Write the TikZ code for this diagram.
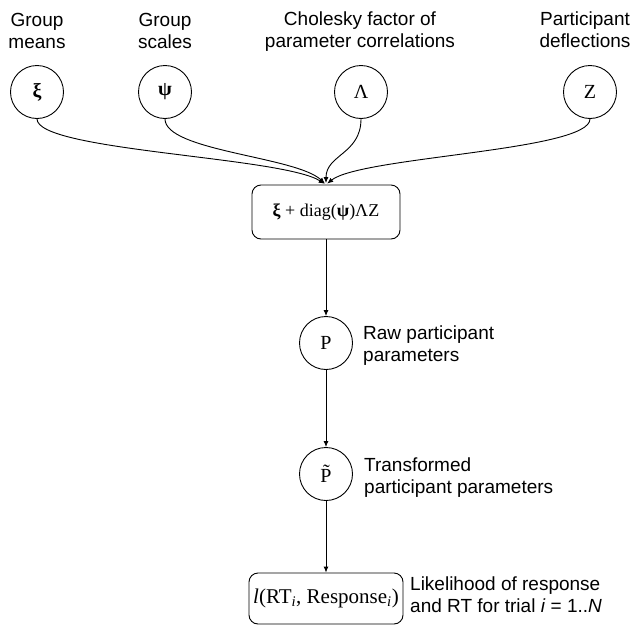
\documentclass[tikz,border=0pt]{standalone}
\usepackage{fontspec}
\setmainfont{Liberation Serif}
\newfontfamily\lsans{Liberation Sans}
\usetikzlibrary{arrows.meta}
\begin{document}
\begin{tikzpicture}[x=1pt,y=-1pt,
  lab/.style={font=\lsans\fontsize{19}{22}\selectfont, inner sep=0pt},
  var/.style={circle, draw, line width=0.9pt, minimum size=53pt, inner sep=0pt, font=\fontsize{20}{24}\selectfont},
  fbox/.style={draw, line width=0.9pt, rounded corners=9pt, inner sep=0pt, font=\fontsize{20}{24}\selectfont},
  arr/.style={line width=0.9pt, -{Latex[length=6pt,width=5pt]}}
]
\useasboundingbox (0,0) rectangle (638,627);
% top variables
\node[var] (xi)  at (37,92)  {\textbf{ξ}};
\node[var] (psi) at (165,92) {\textbf{ψ}};
\node[var] (lam) at (361,92) {Λ};
\node[var] (z)   at (590,92) {Z};
% top labels
\node[lab, anchor=north, align=center] (lxi)  at (37,13)  {Group\\means};
\node[lab, anchor=north, align=center] (lpsi) at (165,13) {Group\\scales};
\node[lab, anchor=north, align=center] (llam) at (360,12) {Cholesky factor of\\parameter correlations};
\node[lab, anchor=north, align=center] (lz)   at (585,12) {Participant\\deflections};
% combination box
\node[fbox, minimum width=148pt, minimum height=54pt, font=\fontsize{18}{22}\selectfont] (comb) at (326,212) {\textbf{ξ} + diag(\textbf{ψ})ΛZ};
% participant parameters
\node[var] (p)  at (326,343) {P};
\node[var] (pt) at (326,474) {\~{P}};
\node[lab, anchor=north west, align=left] (lp)  at (363,326) {Raw participant\\parameters};
\node[lab, anchor=north west, align=left] (lpt) at (364,458) {Transformed\\participant parameters};
% likelihood
\node[fbox, minimum width=154pt, minimum height=51pt, font=\fontsize{21}{25}\selectfont] (lik) at (326,598.5) {\textit{l}(RT\textsubscript{\textit{i}}, Response\textsubscript{\textit{i}})};
\node[lab, anchor=north west, align=left] (llik) at (410,577) {Likelihood of response\\and RT for trial \textit{i} = 1..\textit{N}};
% connectors
\draw[arr, shorten >=1.5pt] (xi.south)  .. controls +(0,32) and +(-45,-28) .. (comb.north);
\draw[arr, shorten >=1.5pt] (psi.south) .. controls +(0,32) and +(-30,-28) .. (comb.north);
\draw[arr, shorten >=1.5pt] (lam.south) .. controls +(0,35) and +(0,-30) .. (comb.north);
\draw[arr, shorten >=1.5pt] (z.south)   .. controls +(0,32) and +(35,-28) .. (comb.north);
\draw[arr] (comb.south) -- (p.north);
\draw[arr] (p.south) -- (pt.north);
\draw[arr] (pt.south) -- (lik.north);
\end{tikzpicture}
\end{document}
